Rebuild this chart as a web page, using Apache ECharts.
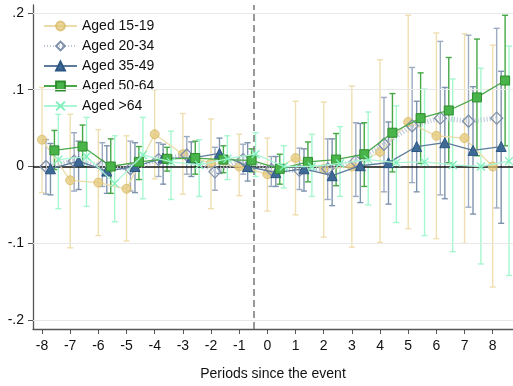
<!DOCTYPE html>
<html>
<head>
<meta charset="utf-8">
<script src="https://cdn.jsdelivr.net/npm/echarts@6/dist/echarts.min.js"></script>
<style>html,body{margin:0;padding:0;background:#fff}#c{width:513px;height:386px}</style>
</head>
<body>
<div id="c"></div>
<script>
// ---- data ----
const periods = [-8,-7,-6,-5,-4,-3,-2,-1,0,1,2,3,4,5,6,7,8];
const xTicks = [-8,-7,-6,-5,-4,-3,-2,-1,0,1,2,3,4,5,6,7,8];
const yTicks = [-0.2,-0.1,0,0.1,0.2];
const yTickLabels = ['-.2','-.1','0','.1','.2'];
const seriesNames = ['Aged 15-19','Aged 20-34','Aged 35-49','Aged 50-64','Aged >64'];

const coef1 = [0.035,-0.018,-0.021,-0.029,0.042,0.016,0.004,0.000,-0.010,0.011,-0.003,0.000,0.019,0.058,0.040,0.037,0.000];
const lo1   = [-0.034,-0.106,-0.090,-0.097,-0.016,-0.036,-0.055,-0.038,-0.058,-0.063,-0.092,-0.105,-0.099,-0.081,-0.094,-0.100,-0.157];
const hi1   = [0.103,0.068,0.048,0.040,0.100,0.069,0.062,0.042,0.037,0.085,0.084,0.105,0.139,0.197,0.174,0.173,0.158];

const coef2 = [0.000,0.007,0.001,-0.003,0.009,0.015,-0.007,0.009,-0.004,-0.005,-0.003,0.007,0.029,0.053,0.063,0.059,0.063];
const lo2   = [-0.036,-0.032,-0.026,-0.032,-0.013,-0.010,-0.031,-0.010,-0.026,-0.030,-0.043,-0.039,-0.033,-0.021,-0.037,-0.053,-0.054];
const hi2   = [0.035,0.044,0.031,0.033,0.031,0.039,0.025,0.029,0.013,0.024,0.036,0.057,0.090,0.129,0.163,0.171,0.180];

const coef3 = [-0.003,0.007,-0.006,0.000,0.011,0.011,0.017,0.000,-0.008,-0.003,-0.012,0.001,0.005,0.026,0.031,0.021,0.026];
const lo3   = [-0.037,-0.030,-0.035,-0.034,-0.023,-0.013,-0.009,-0.019,-0.026,-0.032,-0.051,-0.047,-0.049,-0.033,-0.042,-0.062,-0.074];
const hi3   = [0.030,0.033,0.027,0.031,0.029,0.032,0.037,0.031,0.013,0.023,0.036,0.056,0.058,0.085,0.103,0.104,0.124];

const coef4 = [0.021,0.026,0.000,0.006,0.010,0.011,0.009,0.008,-0.003,0.006,0.009,0.016,0.044,0.063,0.073,0.090,0.112];
const lo4   = [-0.004,0.000,-0.035,-0.017,-0.006,-0.010,-0.008,-0.007,-0.023,-0.020,-0.025,-0.026,-0.007,0.004,0.005,0.014,0.027];
const hi4   = [0.047,0.054,0.036,0.026,0.025,0.033,0.027,0.023,0.016,0.032,0.043,0.057,0.095,0.122,0.142,0.166,0.197];

const coef5 = [0.009,0.013,-0.022,0.015,0.006,0.002,0.010,0.016,0.000,0.000,0.004,0.009,0.005,0.006,0.002,0.000,0.007];
const lo5   = [-0.055,-0.052,-0.072,-0.042,-0.043,-0.039,-0.017,-0.013,-0.028,-0.039,-0.039,-0.050,-0.073,-0.090,-0.111,-0.127,-0.142];
const hi5   = [0.068,0.064,0.040,0.064,0.046,0.035,0.040,0.044,0.027,0.042,0.052,0.071,0.079,0.101,0.114,0.128,0.157];

// ---- styling / assembly ----
const offsets = [0, 0.14, 0.30, 0.44, 0.58];
const FONT = '"Liberation Sans", Arial, sans-serif';
const groups = [
  {coef:coef1, lo:lo1, hi:hi1, symbol:'circle', size:9,
   item:{color:'rgba(228,200,120,0.75)', borderColor:'rgba(215,185,105,0.8)', borderWidth:1},
   line:{color:'#eadba8', width:1.3}, ci:'#efdfb0'},
  {coef:coef2, lo:lo2, hi:hi2, symbol:'diamond', size:12,
   item:{color:'rgba(255,255,255,0)', borderColor:'#7f90ab', borderWidth:1.3},
   line:{color:'#bcc6d5', width:5, type:[1,2]}, ci:'#9dabc0'},
  {coef:coef3, lo:lo3, hi:hi3, symbol:'triangle', size:10,
   item:{color:'#3f6a96', borderColor:'#2b5582', borderWidth:1},
   line:{color:'#5d7b9c', width:1.3}, ci:'#7e93ad'},
  {coef:coef4, lo:lo4, hi:hi4, symbol:'rect', size:9,
   item:{color:'#49b449', borderColor:'#2e8b2e', borderWidth:1},
   line:{color:'#4aa84a', width:1.3}, ci:'#45a845'},
  {coef:coef5, lo:lo5, hi:hi5, symbol:'path://M0,0 L10,10 M10,0 L0,10', size:8,
   item:{color:'rgba(0,0,0,0)', borderColor:'#7ff0bc', borderWidth:1.3},
   line:{color:'#aaf5d3', width:1.3}, ci:'#a6f7cf'}
];

const series = [];
series.push({
  type:'line', data:[], silent:true, z:1,
  markLine:{
    silent:true, symbol:['none','none'], label:{show:false}, animation:false,
    data:[
      {yAxis:0.2, lineStyle:{color:'#e8e8e8', width:1, type:'solid'}},
      {yAxis:0.1, lineStyle:{color:'#e8e8e8', width:1, type:'solid'}},
      {yAxis:-0.1, lineStyle:{color:'#e8e8e8', width:1, type:'solid'}},
      {yAxis:-0.2, lineStyle:{color:'#e8e8e8', width:1, type:'solid'}},
      {xAxis:-0.5, lineStyle:{color:'#777', width:1.5, type:[7,4]}}
    ]
  }
});
series.push({
  type:'line', data:[], silent:true, z:4,
  markLine:{
    silent:true, symbol:['none','none'], label:{show:false}, animation:false,
    data:[{yAxis:0, lineStyle:{color:'#111', width:1.5, type:'solid'}}]
  }
});

groups.forEach((g, k) => {
  const ciData = periods.map((p,i) => [p + offsets[k], g.lo[i], g.hi[i]]);
  series.push({
    type:'custom', z:2, silent:true, data:ciData,
    encode:{x:0, y:[1,2]},
    renderItem:(params, api) => {
      const x = api.value(0);
      const a = api.coord([x, api.value(2)]);
      const b = api.coord([x, api.value(1)]);
      const w = 3;
      const st = {stroke:g.ci, lineWidth:1.4};
      return {type:'group', children:[
        {type:'line', shape:{x1:a[0], y1:a[1], x2:b[0], y2:b[1]}, style:st},
        {type:'line', shape:{x1:a[0]-w, y1:a[1], x2:a[0]+w, y2:a[1]}, style:st},
        {type:'line', shape:{x1:b[0]-w, y1:b[1], x2:b[0]+w, y2:b[1]}, style:st}
      ]};
    }
  });
});
groups.forEach((g, k) => {
  series.push({
    name:seriesNames[k], type:'line', z:5 + k,
    data:periods.map((p,i) => [p + offsets[k], g.coef[i]]),
    symbol:g.symbol, symbolSize:g.size, showSymbol:true,
    itemStyle:g.item, lineStyle:g.line,
    emphasis:{disabled:true}
  });
});

const chart = echarts.init(document.getElementById('c'), null, {renderer:'canvas'});
chart.setOption({
  animation:false,
  backgroundColor:'#fff',
  textStyle:{fontFamily:FONT},
  grid:{left:33, right:0, top:5, bottom:57, containLabel:false},
  legend:{
    data:seriesNames, orient:'vertical', left:38, top:14, padding:5,
    itemWidth:33, itemHeight:11, itemGap:6,
    textStyle:{fontSize:14, color:'#111', fontFamily:FONT},
    selectedMode:false
  },
  xAxis:{
    type:'value', min:-8.32, max:8.72,
    name:'Periods since the event', nameLocation:'middle', nameGap:38,
    nameTextStyle:{fontSize:14, color:'#111', fontFamily:FONT},
    axisLine:{show:true, onZero:false, lineStyle:{color:'#555', width:1.3}},
    axisTick:{show:true, customValues:xTicks, length:5, lineStyle:{color:'#555'}},
    axisLabel:{customValues:xTicks, fontSize:14, color:'#111', margin:10, fontFamily:FONT},
    splitLine:{show:false}
  },
  yAxis:{
    type:'value', min:-0.2117, max:0.2104,
    axisLine:{show:true, onZero:false, lineStyle:{color:'#555', width:1.3}},
    axisTick:{show:true, customValues:yTicks, length:5, lineStyle:{color:'#555'}},
    axisLabel:{customValues:yTicks, fontSize:14, color:'#111', margin:9, fontFamily:FONT,
      formatter:(v) => { const i = yTicks.findIndex(t => Math.abs(t - v) < 1e-9); return i >= 0 ? yTickLabels[i] : ''; }},
    splitLine:{show:false}
  },
  series:series
});
</script>
</body>
</html>
